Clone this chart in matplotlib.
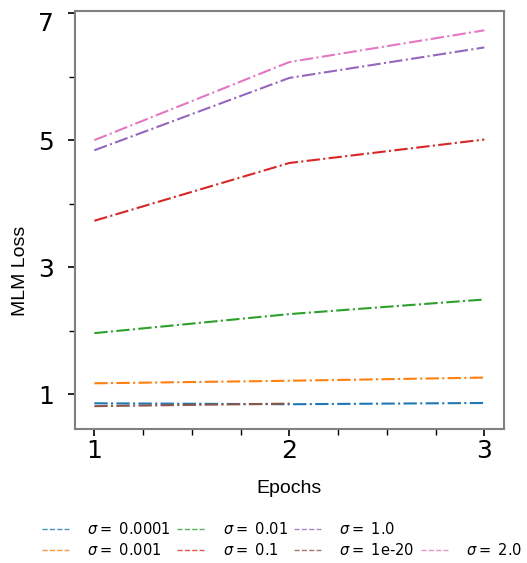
import matplotlib
matplotlib.use("Agg")
import matplotlib.pyplot as plt
import matplotlib.transforms as mtransforms
from matplotlib.lines import Line2D
from matplotlib.ticker import MultipleLocator

epochs = [1, 2, 3]
sigma_labels = ["0.0001", "0.001", "0.01", "0.1", "1.0", "1e-20", "2.0"]
colors = ["#1f77b4", "#ff7f0e", "#2ca02c", "#d62728", "#9467bd", "#8c564b", "#e377c2"]
loss_0001 = [0.855, 0.84, 0.86]
loss_001 = [1.17, 1.21, 1.26]
loss_01 = [1.96, 2.26, 2.49]
loss_1 = [3.73, 4.64, 5.01]
loss_1_0 = [4.84, 5.98, 6.46]
loss_1e20 = [0.81, 0.85]
loss_2_0 = [5.0, 6.23, 6.73]
series = [loss_0001, loss_001, loss_01, loss_1, loss_1_0, loss_1e20, loss_2_0]

fig = plt.figure(figsize=(5.27, 5.63), dpi=100)
ax = fig.add_axes([0.142, 0.238, 0.814, 0.742])
for vals, c in zip(series, colors):
    ax.plot(epochs[:len(vals)], vals, linestyle='-.', color=c, linewidth=1.5)

ax.set_xlim(0.9, 3.1)
ax.set_ylim(0.45, 7.03)
ax.set_xticks([1, 2, 3])
ax.xaxis.set_minor_locator(MultipleLocator(0.25))
ax.set_yticks([1, 3, 5, 7])
ax.set_yticks([2, 4, 6], minor=True)
ax.tick_params(axis='both', which='major', labelsize=18, length=5, width=1.2)
ax.tick_params(axis='x', which='major', pad=2)
ax.tick_params(axis='y', which='major', pad=10)
ax.tick_params(axis='both', which='minor', length=4, width=1.0)
for s in ax.spines.values():
    s.set_color('#808080')
    s.set_linewidth(1.5)

# top tick label sits slightly lower in the reference
top_lbl = ax.get_yticklabels()[-1]
top_lbl.set_transform(top_lbl.get_transform() +
                      mtransforms.ScaledTranslation(0, -8 / 100, fig.dpi_scale_trans))

ax.set_xlabel("Epochs", fontsize=14, family="Liberation Sans")
ax.xaxis.set_label_coords(0.5, -0.121)
ax.set_ylabel("MLM Loss", fontsize=14, family="Liberation Sans")
ax.yaxis.set_label_coords(-0.108, 0.378)

handles = [Line2D([0], [0], color=c, linestyle='--', linewidth=1.0, alpha=0.8) for c in colors]
labels = [r"$\sigma=$ " + s for s in sigma_labels]
blank = Line2D([0], [0], color='none')
handles = handles[:6] + [blank] + handles[6:]
labels = labels[:6] + [""] + labels[6:]
fig.legend(handles, labels, loc='lower left', bbox_to_anchor=(0.055, -0.014), ncol=4,
           frameon=False, fontsize=10.5, handlelength=1.85, handletextpad=1.25,
           columnspacing=0.45, labelspacing=0.3)

fig.savefig("out.png", dpi=100)
